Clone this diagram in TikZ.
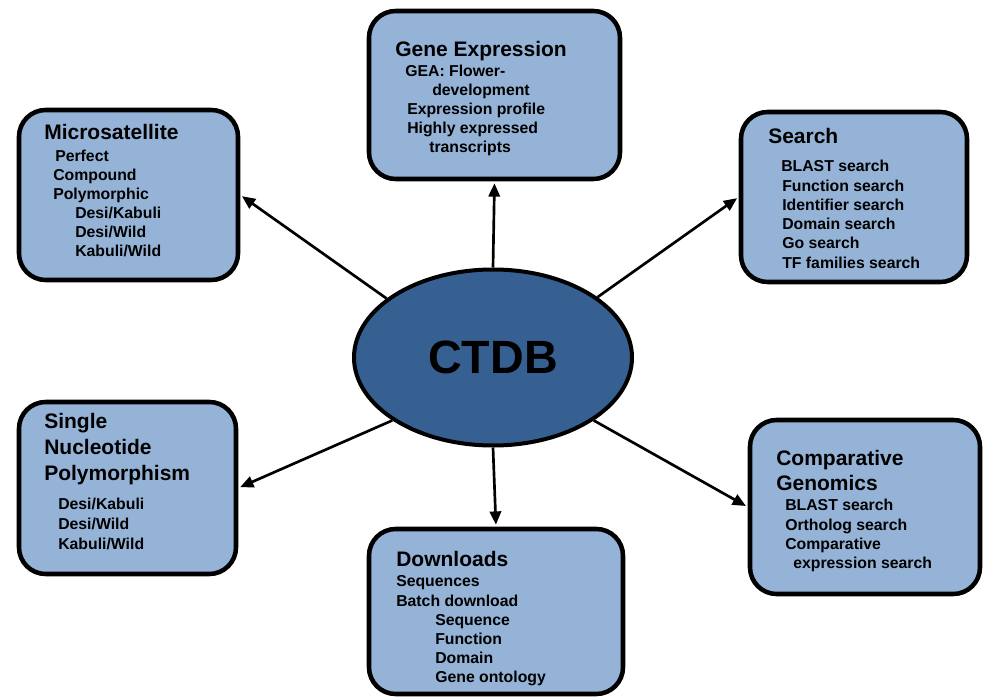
\documentclass[tikz,border=0pt]{standalone}
\usepackage{fontspec}
\setmainfont{Liberation Sans}
\usetikzlibrary{shapes.geometric,fit,arrows.meta}
\definecolor{boxblue}{HTML}{95B3D7}
\definecolor{hubblue}{HTML}{376092}
\tikzset{
  box/.style={draw=black, line width=3.4pt, rounded corners=20pt, fill=boxblue, inner sep=0pt},
  hub/.style={ellipse, draw=black, line width=3pt, fill=hubblue, inner sep=0pt,
    minimum width=208.5pt, minimum height=132pt, font=\bfseries\fontsize{35}{42}\selectfont},
  title/.style={anchor=base west, inner sep=0pt, font=\bfseries\fontsize{15.75}{19}\selectfont},
  item/.style={anchor=base west, inner sep=0pt, font=\bfseries\fontsize{11.85}{14}\selectfont},
  link/.style={-{Triangle[length=10pt,width=8.5pt]}, line width=2pt, shorten >=1.5pt}
}
\begin{document}
\begin{tikzpicture}[x=0.75pt,y=-0.75pt]
\useasboundingbox (0,0) rectangle (985,698);

\node[hub] (ctdb) at (493,357.5) {CTDB};

\node[box, fit={(369,11) (620,179)}] (gene) {};
\node[box, fit={(19,110) (238,280)}] (micro) {};
\node[box, fit={(741,112) (967,282)}] (search) {};
\node[box, fit={(19,402) (236,574)}] (snp) {};
\node[box, fit={(750,420) (980,594)}] (comp) {};
\node[box, fit={(369,529) (623,694)}] (down) {};

% gene expression
\node[title] (gene-title) at (395,56.5) {Gene Expression};
\foreach \x/\y/\t [count=\i] in {405/76.5/{GEA: Flower-}, 432/95.5/development,
    407/114.5/{Expression profile}, 407/133.5/{Highly expressed}, 429/152.5/transcripts}
  \node[item] (gene-\i) at (\x,\y) {\t};

% microsatellite
\node[title] (micro-title) at (44,140) {Microsatellite};
\foreach \x/\y/\t [count=\i] in {55/161.5/Perfect, 53/180.5/Compound, 53/199.5/Polymorphic,
    75/218.5/{Desi/Kabuli}, 75/237.5/{Desi/Wild}, 75/256.5/{Kabuli/Wild}}
  \node[item] (micro-\i) at (\x,\y) {\t};

% search
\node[title] (search-title) at (768,144) {Search};
\foreach \x/\y/\t [count=\i] in {781/171.5/{BLAST search}, 782/191.5/{Function search},
    782/210.5/{Identifier search}, 782/229.5/{Domain search}, 782/248.5/{Go search},
    782/268.5/{TF families search}}
  \node[item] (search-\i) at (\x,\y) {\t};

% snp
\foreach \y/\t [count=\i] in {428/Single, 454/Nucleotide, 480/Polymorphism}
  \node[title] (snp-title\i) at (44,\y) {\t};
\foreach \y/\t [count=\i] in {509/{Desi/Kabuli}, 529/{Desi/Wild}, 549/{Kabuli/Wild}}
  \node[item] (snp-\i) at (58,\y) {\t};

% comparative genomics
\foreach \y/\t [count=\i] in {465/Comparative, 490/Genomics}
  \node[title] (comp-title\i) at (776,\y) {\t};
\foreach \x/\y/\t [count=\i] in {785/510.5/{BLAST search}, 785/530/{Ortholog search},
    785/549/Comparative, 793/568/{expression search}}
  \node[item] (comp-\i) at (\x,\y) {\t};

% downloads
\node[title] (down-title) at (396,566) {Downloads};
\foreach \x/\y/\t [count=\i] in {396/586.5/Sequences, 396/606/{Batch download},
    435/625/Sequence, 435/644/Function, 435/663.5/Domain, 435/682.5/{Gene ontology}}
  \node[item] (down-\i) at (\x,\y) {\t};

\draw[link] (ctdb.north) -- (gene.south);
\draw[link] (ctdb.151) -- (micro.east);
\draw[link] (ctdb.30) -- (search.west);
\draw[link] (ctdb.212) -- (snp.east);
\draw[link] (ctdb.328) -- (comp.west);
\draw[link] (ctdb.south) -- (down.north);
\end{tikzpicture}
\end{document}
